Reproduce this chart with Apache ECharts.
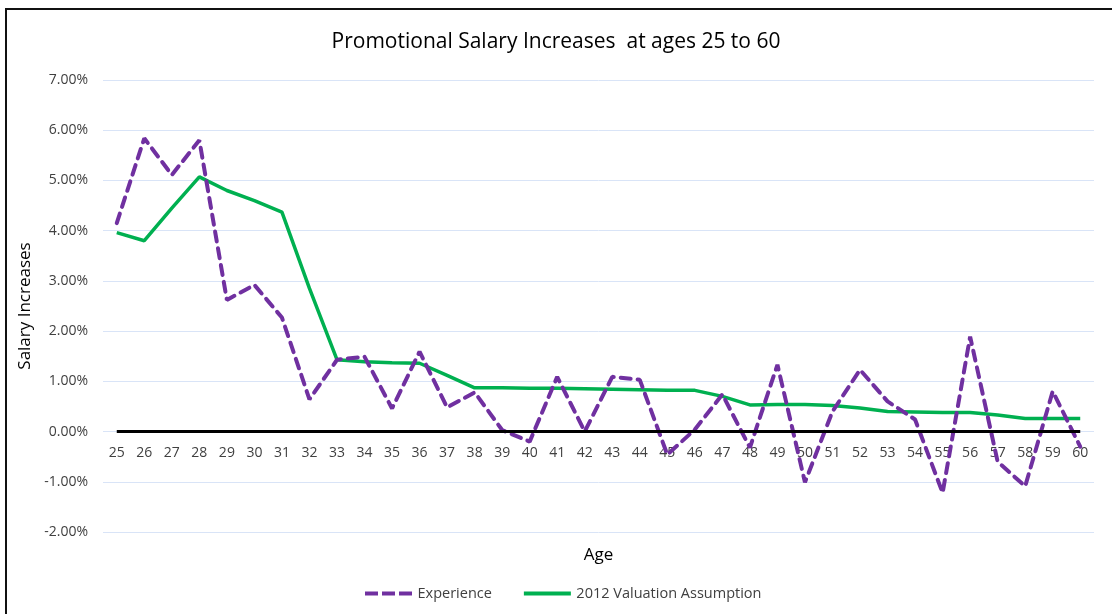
<!DOCTYPE html>
<html>
<head>
<meta charset="utf-8">
<script src="https://cdn.jsdelivr.net/npm/echarts@6/dist/echarts.min.js"></script>
<style>
  html, body { margin: 0; padding: 0; background: #fff; }
  #chart { width: 1112px; height: 614px; }
</style>
</head>
<body>
<div id="chart"></div>
<script>
// ages on the x axis
const ages = ['25', '26', '27', '28', '29', '30', '31', '32', '33', '34', '35', '36',
  '37', '38', '39', '40', '41', '42', '43', '44', '45', '46', '47', '48',
  '49', '50', '51', '52', '53', '54', '55', '56', '57', '58', '59', '60']

// actual promotional increases (%)
const experience = [4.15, 5.84, 5.11, 5.80, 2.62, 2.92, 2.27, 0.64, 1.43, 1.49, 0.46, 1.59,
  0.48, 0.78, 0.03, -0.20, 1.09, 0.00, 1.09, 1.03, -0.46, 0.04, 0.74, -0.32,
  1.33, -1.01, 0.40, 1.23, 0.60, 0.24, -1.22, 1.89, -0.60, -1.09, 0.80, -0.30]

// assumed increases (%)
const assumption = [3.96, 3.80, 4.45, 5.07, 4.80, 4.60, 4.37, 2.85, 1.43, 1.39, 1.37, 1.36,
  1.12, 0.87, 0.87, 0.86, 0.86, 0.85, 0.84, 0.83, 0.82, 0.82, 0.70, 0.53,
  0.54, 0.54, 0.52, 0.47, 0.40, 0.39, 0.38, 0.38, 0.33, 0.26, 0.26, 0.26]

const yMin = -2
const yMax = 7
const yStep = 1

const font = '"Open Sans", Lato, sans-serif'
const textColor = '#404040'

const gridTop = 80
const gridBottom = 82
const plotHeight = 614 - gridTop - gridBottom
// lift the category axis up to the 0% line
const zeroOffset = -plotHeight * (0 - yMin) / (yMax - yMin)

const chart = echarts.init(document.getElementById('chart'))
const option = {
  animation: false,
  textStyle: { fontFamily: font },
  title: {
    text: 'Promotional Salary Increases  at ages 25 to 60',
    left: 'center',
    top: 27,
    textStyle: { fontFamily: font, fontSize: 21, fontWeight: 'normal', color: '#000' }
  },
  legend: {
    bottom: 8,
    left: 360,
    itemWidth: 48,
    itemHeight: 4,
    itemGap: 32,
    textStyle: { fontFamily: font, fontSize: 14.5, color: textColor },
    data: [
      { name: 'Experience', icon: 'path://M0,0 L13,0 L13,4 L0,4 Z M17,0 L30,0 L30,4 L17,4 Z M34,0 L47,0 L47,4 L34,4 Z', itemStyle: { color: '#7030a0' } },
      { name: '2012 Valuation Assumption', icon: 'path://M0,0 L47,0 L47,4 L0,4 Z', itemStyle: { color: '#00b050' } }
    ]
  },
  grid: {
    left: 103,
    right: 18,
    top: gridTop,
    bottom: gridBottom,
    containLabel: false,
    outerBoundsMode: 'none'
  },
  xAxis: {
    type: 'category',
    data: ages,
    boundaryGap: true,
    offset: zeroOffset,
    name: 'Age',
    nameLocation: 'middle',
    nameGap: 115,
    nameTextStyle: { fontFamily: font, fontSize: 17, color: '#000' },
    axisLine: { show: false, onZero: false },
    axisTick: { show: false },
    axisLabel: { fontFamily: font, fontSize: 14, color: textColor, margin: 14, interval: 0 }
  },
  yAxis: {
    type: 'value',
    min: yMin,
    max: yMax,
    interval: yStep,
    name: 'Salary Increases',
    nameLocation: 'middle',
    nameGap: 68,
    nameTextStyle: { fontFamily: font, fontSize: 17, color: '#000' },
    axisLine: { show: false },
    axisTick: { show: false },
    axisLabel: {
      fontFamily: font,
      fontSize: 14,
      color: textColor,
      margin: 15,
      formatter: v => v.toFixed(2) + '%'
    },
    splitLine: { lineStyle: { color: '#d9e4f7', width: 1 } }
  },
  series: [
    {
      name: 'Experience',
      type: 'line',
      data: experience,
      showSymbol: false,
      z: 3,
      lineStyle: { color: '#7030a0', width: 4, type: [10, 7], cap: 'round' },
      itemStyle: { color: '#7030a0' },
      markLine: {
        silent: true,
        symbol: 'none',
        label: { show: false },
        lineStyle: { color: '#000', width: 3, type: 'solid' },
        data: [[{ coord: [ages[0], 0] }, { coord: [ages[ages.length - 1], 0] }]]
      }
    },
    {
      name: '2012 Valuation Assumption',
      type: 'line',
      data: assumption,
      showSymbol: false,
      z: 2,
      lineStyle: { color: '#00b050', width: 3.5 },
      itemStyle: { color: '#00b050' }
    }
  ],
  graphic: [
    { type: 'line', silent: true, shape: { x1: 6, y1: 8, x2: 6, y2: 614 }, style: { stroke: '#111', lineWidth: 2 } },
    { type: 'line', silent: true, shape: { x1: 5, y1: 9, x2: 1112, y2: 9 }, style: { stroke: '#111', lineWidth: 2 } }
  ]
}
chart.setOption(option)
</script>
</body>
</html>
